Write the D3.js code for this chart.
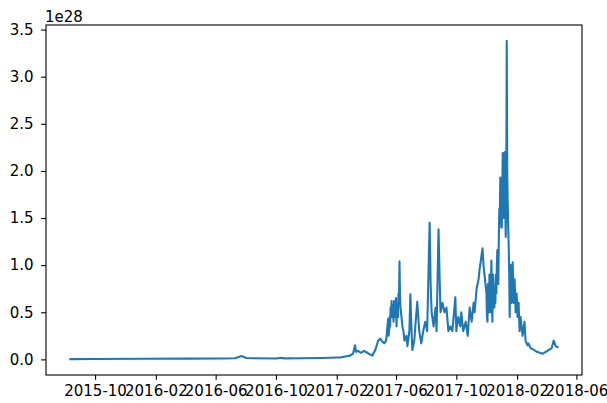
<!DOCTYPE html>
<html>
<head>
<meta charset="utf-8">
<script src="https://cdn.jsdelivr.net/npm/d3@7"></script>
<style>
  html, body { margin: 0; padding: 0; background: #fff; }
  svg { display: block; }
  text { font-family: "DejaVu Sans", sans-serif; font-size: 15px; fill: #000; }
</style>
</head>
<body>
<svg id="chart" width="607" height="403"></svg>
<script>
// Daily series, values in units of 1e28
const dates = [
  "2015-08-12","2015-10-01","2016-01-01","2016-04-01","2016-06-15","2016-07-10","2016-07-18","2016-07-22",
  "2016-07-26","2016-08-02","2016-08-15","2016-10-01","2016-10-13","2016-10-16","2016-11-20","2017-01-01",
  "2017-01-20","2017-02-01","2017-02-08","2017-02-18","2017-02-28","2017-03-06","2017-03-10","2017-03-12",
  "2017-03-16","2017-03-22","2017-03-28","2017-04-04","2017-04-10","2017-04-14","2017-04-20","2017-04-26",
  "2017-04-30","2017-05-04","2017-05-08","2017-05-12",
  "2017-05-16","2017-05-17","2017-05-18","2017-05-19","2017-05-20","2017-05-21","2017-05-22","2017-05-23",
  "2017-05-24","2017-05-25","2017-05-26","2017-05-27","2017-05-28","2017-05-29","2017-05-30","2017-05-31",
  "2017-06-01","2017-06-02","2017-06-03","2017-06-04","2017-06-05","2017-06-06","2017-06-07","2017-06-08",
  "2017-06-09","2017-06-10","2017-06-12","2017-06-14","2017-06-16","2017-06-18",
  "2017-06-22","2017-06-24","2017-06-28","2017-06-30","2017-07-02","2017-07-04","2017-07-08","2017-07-10",
  "2017-07-14","2017-07-16","2017-07-18","2017-07-22","2017-07-26","2017-07-30","2017-08-03","2017-08-08",
  "2017-08-10","2017-08-12","2017-08-16","2017-08-20","2017-08-22","2017-08-26","2017-08-28","2017-08-30",
  "2017-09-03","2017-09-07","2017-09-11","2017-09-15","2017-09-19","2017-09-23","2017-09-29","2017-10-01",
  "2017-10-05","2017-10-09","2017-10-11","2017-10-15","2017-10-20","2017-10-24","2017-10-28","2017-11-01",
  "2017-11-05","2017-11-07","2017-11-11","2017-11-15","2017-11-17","2017-11-23","2017-11-25","2017-11-27",
  "2017-12-01","2017-12-02","2017-12-03","2017-12-04","2017-12-05","2017-12-06","2017-12-07","2017-12-08",
  "2017-12-09","2017-12-10","2017-12-11","2017-12-12","2017-12-13","2017-12-14","2017-12-15","2017-12-16",
  "2017-12-17","2017-12-18","2017-12-19","2017-12-20","2017-12-21","2017-12-22","2017-12-23","2017-12-24",
  "2017-12-25","2017-12-26","2017-12-27","2017-12-28","2017-12-29","2017-12-30","2017-12-31","2018-01-01",
  "2018-01-02","2018-01-03","2018-01-04","2018-01-05","2018-01-06","2018-01-07","2018-01-08","2018-01-09",
  "2018-01-10","2018-01-11","2018-01-12","2018-01-13","2018-01-14","2018-01-15","2018-01-16","2018-01-17",
  "2018-01-18","2018-01-19","2018-01-21","2018-01-23","2018-01-25","2018-01-27","2018-01-29","2018-01-31",
  "2018-02-02","2018-02-04","2018-02-06","2018-02-08","2018-02-12","2018-02-16","2018-02-18","2018-02-22",
  "2018-02-24","2018-02-28","2018-03-07","2018-03-13","2018-03-19","2018-03-25","2018-03-31","2018-04-06",
  "2018-04-12","2018-04-16","2018-04-18","2018-04-20","2018-04-24"
];
const values = [
  0.003,0.004,0.006,0.008,0.010,0.012,0.025,0.035,
  0.030,0.015,0.012,0.010,0.018,0.011,0.012,0.015,
  0.018,0.020,0.020,0.030,0.040,0.060,0.150,0.080,
  0.090,0.070,0.090,0.070,0.050,0.040,0.100,0.200,
  0.220,0.190,0.170,0.200,
  0.430,0.250,0.300,0.450,0.350,0.550,0.500,0.620,
  0.450,0.580,0.540,0.400,0.620,0.450,0.550,0.450,
  0.650,0.350,0.550,0.600,0.450,0.700,0.600,1.040,
  0.700,0.550,0.450,0.350,0.300,0.200,
  0.250,0.140,0.300,0.690,0.350,0.100,0.200,0.350,
  0.610,0.450,0.300,0.170,0.300,0.400,0.300,1.450,
  0.800,0.500,0.350,0.550,0.300,1.380,0.900,0.500,
  0.600,0.500,0.550,0.300,0.350,0.300,0.660,0.300,
  0.450,0.350,0.500,0.300,0.400,0.250,0.550,0.400,
  0.600,0.500,0.750,0.850,0.950,1.180,1.000,0.900,
  0.700,0.450,0.400,0.800,0.750,0.500,0.900,0.550,
  0.500,0.800,1.050,0.600,0.400,0.900,0.800,0.600,
  0.550,0.750,0.600,0.900,0.700,1.000,1.160,0.900,
  0.800,1.300,1.600,1.500,1.930,1.600,1.400,1.400,
  1.800,2.190,1.700,1.500,1.900,2.200,1.600,1.300,
  1.800,3.380,2.000,1.660,1.400,1.200,0.900,0.450,
  0.800,1.000,0.600,1.030,0.600,0.850,0.500,0.700,
  0.450,0.600,0.300,0.450,0.250,0.400,0.200,0.150,
  0.170,0.120,0.100,0.080,0.070,0.060,0.080,0.100,
  0.120,0.200,0.170,0.140,0.130
];
const xTickLabels = ["2015-10","2016-02","2016-06","2016-10","2017-02","2017-06","2017-10","2018-02","2018-06"];
const yTickValues = [0, 0.5, 1.0, 1.5, 2.0, 2.5, 3.0, 3.5];
const offsetLabel = "1e28";

const parse = d3.utcParse("%Y-%m-%d");
const parseMonth = d3.utcParse("%Y-%m");
const data = dates.map((d, i) => ({ date: parse(d), value: values[i] }));

const svg = d3.select("#chart");
const plotLeft = 46, plotRight = 582, plotTop = 25, plotBottom = 375;
const tickLen = 4.86;

// 5% margins around the data extent
const [x0, x1] = d3.extent(data, d => d.date);
const xPad = (x1 - x0) * 0.05;
const x = d3.scaleUtc()
  .domain([new Date(+x0 - xPad), new Date(+x1 + xPad)])
  .range([plotLeft, plotRight]);

const [y0, y1] = d3.extent(data, d => d.value);
const yPad = (y1 - y0) * 0.05;
const y = d3.scaleLinear()
  .domain([y0 - yPad, y1 + yPad])
  .range([plotBottom, plotTop]);

svg.append("rect").attr("width", 607).attr("height", 403).attr("fill", "#fff");

// Series line
svg.append("path")
  .datum(data)
  .attr("fill", "none")
  .attr("stroke", "#1f77b4")
  .attr("stroke-width", 2.08)
  .attr("stroke-linejoin", "round")
  .attr("stroke-linecap", "square")
  .attr("d", d3.line().x(d => x(d.date)).y(d => y(d.value)));

// Axes
const xAxis = d3.axisBottom(x)
  .tickValues(xTickLabels.map(parseMonth))
  .tickFormat(d3.utcFormat("%Y-%m"))
  .tickSize(tickLen)
  .tickPadding(5.5);
const yAxis = d3.axisLeft(y)
  .tickValues(yTickValues)
  .tickFormat(d3.format(".1f"))
  .tickSize(tickLen)
  .tickPadding(7.5);

const gx = svg.append("g").attr("transform", `translate(0,${plotBottom})`).call(xAxis);
const gy = svg.append("g").attr("transform", `translate(${plotLeft},0)`).call(yAxis);
[gx, gy].forEach(g => {
  g.select(".domain").remove();
  g.selectAll(".tick line").attr("stroke", "#000").attr("stroke-width", 1.1);
  g.selectAll(".tick text").attr("fill", "#000").style("font-size", "15px")
    .style("font-family", "'DejaVu Sans', sans-serif");
});

// Frame
svg.append("rect")
  .attr("x", plotLeft).attr("y", plotTop)
  .attr("width", plotRight - plotLeft).attr("height", plotBottom - plotTop)
  .attr("fill", "none").attr("stroke", "#000").attr("stroke-width", 1.1);

// Scale offset text
svg.append("text")
  .attr("x", plotLeft - 1).attr("y", plotTop - 3)
  .text(offsetLabel);
</script>
</body>
</html>
